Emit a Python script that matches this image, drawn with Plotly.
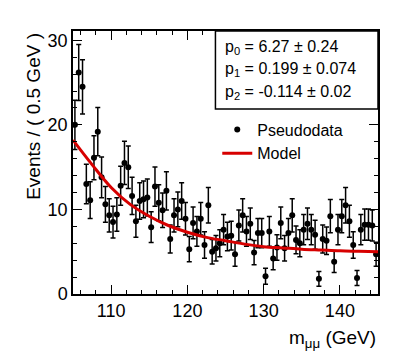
import numpy as np
import plotly.graph_objects as go

# binned pseudodata (weighted), 0.5 GeV bins from 105 to 145 GeV
bin_lo, bin_w = 105.0, 0.5
yields = [20.0, 26.2, 24.5, 13.0, 11.1, 16.1, 19.2, 13.8, 10.6, 9.3,
          8.5, 9.4, 12.8, 15.5, 15.0, 11.6, 8.6, 11.0, 11.2, 11.4,
          7.9, 12.7, 10.8, 9.9, 12.2, 6.5, 9.3, 10.0, 11.0, 8.9,
          5.3, 8.4, 7.4, 8.9, 5.8, 10.5, 5.0, 5.4, 6.0, 7.6,
          6.8, 6.9, 4.7, 8.1, 9.3, 7.4, 8.3, 4.9, 7.2, 7.2,
          2.1, 7.4, 4.2, 5.5, 8.4, 5.4, 7.2, 9.3, 6.4, 6.0,
          7.6, 8.3, 7.6, 7.0, 1.8, 6.5, 6.3, 9.2, 3.8, 7.6,
          9.2, 10.5, 8.6, 5.8, 1.9, 7.6, 8.2, 8.2, 8.1, 4.7]
event_weight = 0.42  # per-event weight, sets the sum-of-weights^2 error bars

# model curve
model_x = [105, 107.5, 110, 112.5, 115, 117.5, 120, 122.5, 125, 127.5,
           130, 132.5, 135, 137.5, 140, 142.5, 145]
model_y = [18.2, 15.3, 12.6, 10.6, 9.2, 8.1, 7.3, 6.7, 6.3, 5.9,
           5.6, 5.45, 5.3, 5.2, 5.1, 5.05, 5.0]

param_lines = ["p<sub>0</sub> = 6.27 ± 0.24",
               "p<sub>1</sub> = 0.199 ± 0.074",
               "p<sub>2</sub> = -0.114 ± 0.02"]

x_ticks = [110, 120, 130, 140]
y_ticks = [0, 10, 20, 30]

centers = bin_lo + bin_w * (np.arange(len(yields)) + 0.5)
errors = np.sqrt(event_weight * np.array(yields))

font = "Liberation Sans, Arial, Helvetica, sans-serif"

fig = go.Figure()
fig.add_trace(go.Scatter(
    x=centers, y=yields, mode="markers", name="Pseudodata",
    marker=dict(color="black", size=6),
    error_y=dict(type="data", array=errors, color="black", thickness=1.5, width=2.5),
))
fig.add_trace(go.Scatter(
    x=model_x, y=model_y, mode="lines", name="Model",
    line=dict(color="rgb(215,0,0)", width=3, shape="spline"),
))

axis_common = dict(
    showline=True, mirror="allticks", linecolor="black", linewidth=1.5,
    ticks="inside", tickcolor="black", tickwidth=1, ticklen=9,
    showgrid=False, zeroline=False,
    tickfont=dict(family=font, size=18, color="black"),
)

fig.update_xaxes(range=[105, 145], tickvals=x_ticks,
                 minor=dict(ticks="inside", dtick=2, ticklen=4.5, tickcolor="black"),
                 **axis_common)
fig.update_yaxes(range=[0, 31.1], tickvals=y_ticks,
                 minor=dict(ticks="inside", dtick=2, ticklen=4.5, tickcolor="black"),
                 **axis_common)

annotations = [
    dict(text="Events / ( 0.5 GeV )", textangle=-90, xref="paper", yref="paper",
         x=-0.13, y=1.0, xanchor="center", yanchor="top", showarrow=False,
         font=dict(family=font, size=19, color="black")),
    dict(text="m<sub>μμ</sub> (GeV)", xref="paper", yref="paper",
         x=1.0, y=-0.172, xanchor="right", yanchor="middle", showarrow=False,
         font=dict(family=font, size=19, color="black")),
]
for line, yy in zip(param_lines, [0.939, 0.852, 0.768]):
    annotations.append(dict(text=line, xref="paper", yref="paper", x=0.493, y=yy,
                            xanchor="left", yanchor="middle", showarrow=False,
                            font=dict(family=font, size=16, color="black")))

# page body has an 8px margin, so the figure is 8px smaller and shifted back
fig.update_layout(
    width=407, height=354,
    margin=dict(l=65, r=37, t=23, b=68),
    plot_bgcolor="white", paper_bgcolor="white",
    annotations=annotations,
    shapes=[dict(type="rect", xref="paper", yref="paper", x0=0.467, x1=1.0,
                 y0=0.703, y1=1.0, line=dict(color="black", width=1.5),
                 fillcolor="white", layer="above")],
    legend=dict(x=0.473, y=0.69, xanchor="left", yanchor="top",
                bgcolor="rgba(0,0,0,0)", font=dict(family=font, size=16, color="black")),
    showlegend=True,
)

fig.write_html("out.html")
